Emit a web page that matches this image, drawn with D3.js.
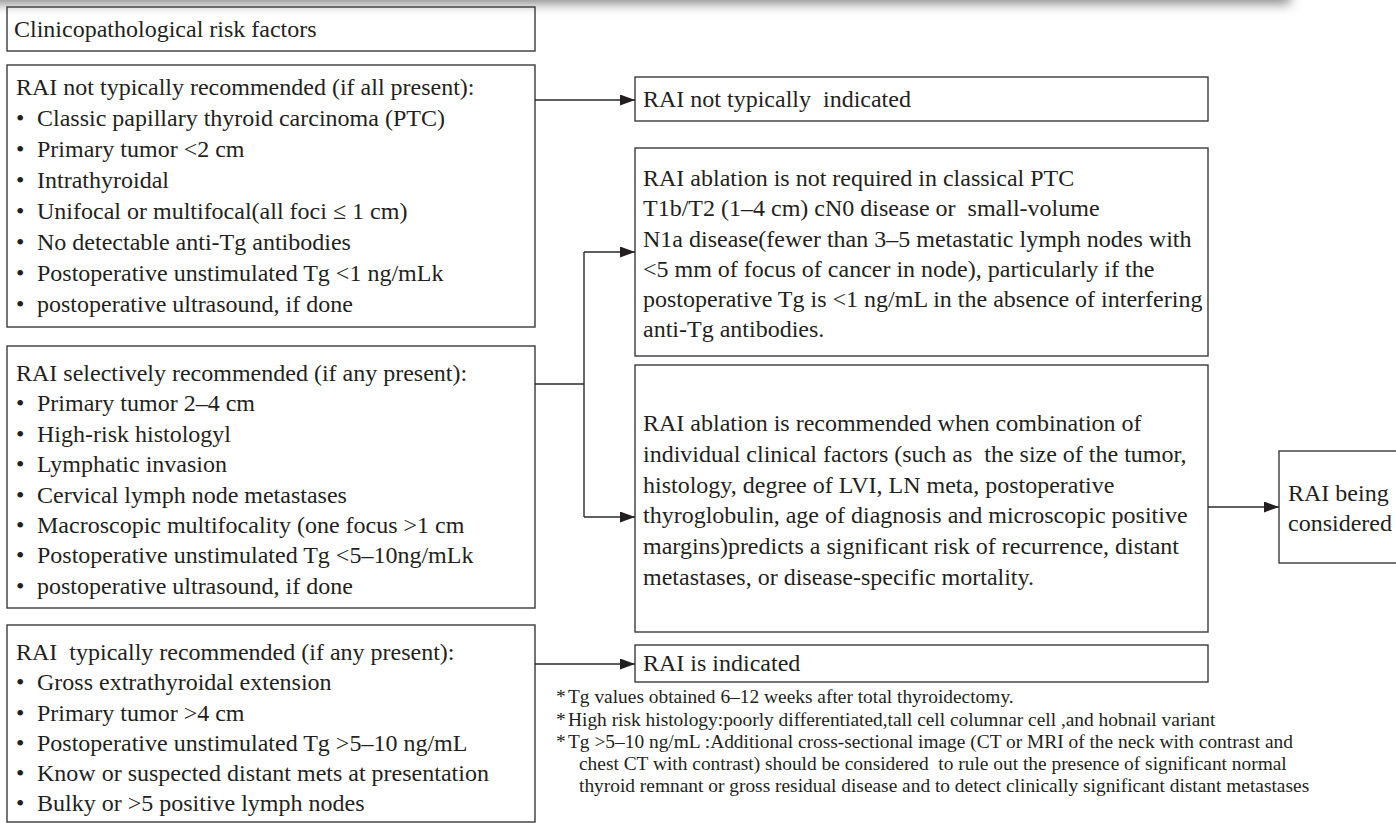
<!DOCTYPE html>
<html>
<head>
<meta charset="utf-8">
<script src="https://cdn.jsdelivr.net/npm/d3@7/dist/d3.min.js"></script>
<style>
  html, body { margin: 0; padding: 0; background: #fff; }
  svg { display: block; }
  text { font-family: "Liberation Serif", "Times New Roman", serif; fill: #231f20; white-space: pre; }
</style>
</head>
<body>
<div id="chart"></div>
<script>
// ---- text content ----
const titleText = ["Clinicopathological risk factors"];

const lowHeader = "RAI not typically recommended (if all present):";
const lowItems = [
  "Classic papillary thyroid carcinoma (PTC)",
  "Primary tumor <2 cm",
  "Intrathyroidal",
  "Unifocal or multifocal(all foci \u2264 1 cm)",
  "No detectable anti-Tg antibodies",
  "Postoperative unstimulated Tg <1 ng/mLk",
  "postoperative ultrasound, if done"
];

const midHeader = "RAI selectively recommended (if any present):";
const midItems = [
  "Primary tumor 2\u20134 cm",
  "High-risk histologyl",
  "Lymphatic invasion",
  "Cervical lymph node metastases",
  "Macroscopic multifocality (one focus >1 cm",
  "Postoperative unstimulated Tg <5\u201310ng/mLk",
  "postoperative ultrasound, if done"
];

const highHeader = "RAI  typically recommended (if any present):";
const highItems = [
  "Gross extrathyroidal extension",
  "Primary tumor >4 cm",
  "Postoperative unstimulated Tg >5\u201310 ng/mL",
  "Know or suspected distant mets at presentation",
  "Bulky or >5 positive lymph nodes"
];

const notIndicatedText = ["RAI not typically  indicated"];
const notRequiredText = [
  "RAI ablation is not required in classical PTC",
  "T1b/T2 (1\u20134 cm) cN0 disease or  small-volume",
  "N1a disease(fewer than 3\u20135 metastatic lymph nodes with",
  "<5 mm of focus of cancer in node), particularly if the",
  "postoperative Tg is <1 ng/mL in the absence of interfering",
  "anti-Tg antibodies."
];
const recommendedText = [
  "RAI ablation is recommended when combination of",
  "individual clinical factors (such as  the size of the tumor,",
  "histology, degree of LVI, LN meta, postoperative",
  "thyroglobulin, age of diagnosis and microscopic positive",
  "margins)predicts a significant risk of recurrence, distant",
  "metastases, or disease-specific mortality."
];
const consideredText = ["RAI being", "considered"];
const indicatedText = ["RAI is indicated"];

const footnotes = [
  ["Tg values obtained 6\u201312 weeks after total thyroidectomy."],
  ["High risk histology:poorly differentiated,tall cell columnar cell ,and hobnail variant"],
  ["Tg >5\u201310 ng/mL :Additional cross-sectional image (CT or MRI of the neck with contrast and",
   "chest CT with contrast) should be considered  to rule out the presence of significant normal",
   "thyroid remnant or gross residual disease and to detect clinically significant distant metastases"]
];

// ---- layout (pixels) ----
const W = 1396, H = 823;
const FS = 24, FOOT_FS = 19.4;

const nodes = [
  {id: "title", x0: 7, x1: 535, y0: 7, y1: 51, first: 29, step: 0, pad: 7, header: titleText[0], items: []},
  {id: "low", x0: 7, x1: 535, y0: 65, y1: 327, first: 87, step: 31, pad: 9, header: lowHeader, items: lowItems},
  {id: "mid", x0: 7, x1: 535, y0: 346, y1: 608, first: 373, step: 30.4, pad: 9, header: midHeader, items: midItems},
  {id: "high", x0: 7, x1: 535, y0: 625, y1: 822, first: 652, step: 30.3, pad: 9, header: highHeader, items: highItems},
  {id: "notInd", x0: 635, x1: 1208, y0: 77, y1: 121, first: 99, step: 0, pad: 8, lines: notIndicatedText},
  {id: "notReq", x0: 635, x1: 1208, y0: 148, y1: 356, first: 178, step: 30.3, pad: 8, lines: notRequiredText},
  {id: "rec", x0: 635, x1: 1208, y0: 365, y1: 632, first: 423, step: 30.8, pad: 8, lines: recommendedText},
  {id: "considered", x0: 1279, x1: 1402, y0: 451, y1: 563, first: 493, step: 30, pad: 9, lines: consideredText},
  {id: "indicated", x0: 635, x1: 1208, y0: 645, y1: 682, first: 663, step: 0, pad: 8, lines: indicatedText}
];
const byId = Object.fromEntries(nodes.map(d => [d.id, d]));

const svg = d3.select("#chart").append("svg")
  .attr("width", W)
  .attr("height", H);

const defs = svg.append("defs");
defs.append("filter").attr("id", "blur")
  .attr("x", "-10%").attr("y", "-100%").attr("width", "120%").attr("height", "300%")
  .append("feGaussianBlur").attr("stdDeviation", 6);

defs.append("marker")
  .attr("id", "arrow")
  .attr("markerUnits", "userSpaceOnUse")
  .attr("markerWidth", 15).attr("markerHeight", 11)
  .attr("refX", 15).attr("refY", 5.5)
  .attr("orient", "auto")
  .append("path")
  .attr("d", "M0,0 L15,5.5 L0,11 Z")
  .attr("fill", "#231f20");

// faint page shadow along the top edge
svg.append("rect")
  .attr("x", -30).attr("y", -26)
  .attr("width", 1320).attr("height", 30)
  .attr("fill", "#8a8a8a")
  .attr("filter", "url(#blur)");

// boxes
svg.selectAll("rect.box")
  .data(nodes)
  .join("rect")
  .attr("class", "box")
  .attr("x", d => d.x0)
  .attr("y", d => d.y0)
  .attr("width", d => d.x1 - d.x0)
  .attr("height", d => d.y1 - d.y0)
  .attr("fill", "none")
  .attr("stroke", "#3a3a3a")
  .attr("stroke-width", 1.4);

// text in boxes
nodes.forEach(n => {
  const g = svg.append("g").attr("class", "label-" + n.id);
  const rows = n.lines
    ? n.lines.map(t => ({text: t, bullet: false}))
    : [{text: n.header, bullet: false}].concat(n.items.map(t => ({text: t, bullet: true})));
  rows.forEach((r, i) => {
    const y = n.first + i * n.step;
    if (r.bullet) {
      g.append("text")
        .attr("x", n.x0 + n.pad)
        .attr("y", y).attr("dy", "0.33em")
        .attr("font-size", FS)
        .text("\u2022");
    }
    g.append("text")
      .attr("x", n.x0 + n.pad + (r.bullet ? 21 : 0))
      .attr("y", y).attr("dy", "0.33em")
      .attr("font-size", FS)
      .text(r.text);
  });
});

// connectors
const low = byId.low, mid = byId.mid, high = byId.high;
const notInd = byId.notInd, notReq = byId.notReq, rec = byId.rec;
const considered = byId.considered, indicated = byId.indicated;
const branchX = 584;
const line = d3.line();

const links = [
  {pts: [[low.x1, notInd.first + 1], [notInd.x0, notInd.first + 1]], arrow: true},
  {pts: [[mid.x1, 384], [branchX, 384]], arrow: false},
  {pts: [[branchX, 252], [branchX, 517]], arrow: false},
  {pts: [[branchX, 252], [notReq.x0, 252]], arrow: true},
  {pts: [[branchX, 517], [rec.x0, 517]], arrow: true},
  {pts: [[rec.x1, 507], [considered.x0, 507]], arrow: true},
  {pts: [[high.x1, indicated.first + 1], [indicated.x0, indicated.first + 1]], arrow: true}
];

svg.selectAll("path.link")
  .data(links)
  .join("path")
  .attr("class", "link")
  .attr("d", d => line(d.pts))
  .attr("fill", "none")
  .attr("stroke", "#2a2a2a")
  .attr("stroke-width", 1.4)
  .attr("marker-end", d => d.arrow ? "url(#arrow)" : null);

// footnotes
const foot = svg.append("g").attr("class", "footnotes");
let row = 0;
footnotes.forEach(note => {
  note.forEach((t, j) => {
    const y = 697 + row * 22.2;
    if (j === 0) {
      foot.append("text")
        .attr("x", 556).attr("y", y).attr("dy", "0.33em")
        .attr("font-size", FOOT_FS)
        .text("*");
    }
    foot.append("text")
      .attr("x", j === 0 ? 568 : 579)
      .attr("y", y).attr("dy", "0.33em")
      .attr("font-size", FOOT_FS)
      .text(t);
    row++;
  });
});
</script>
</body>
</html>
